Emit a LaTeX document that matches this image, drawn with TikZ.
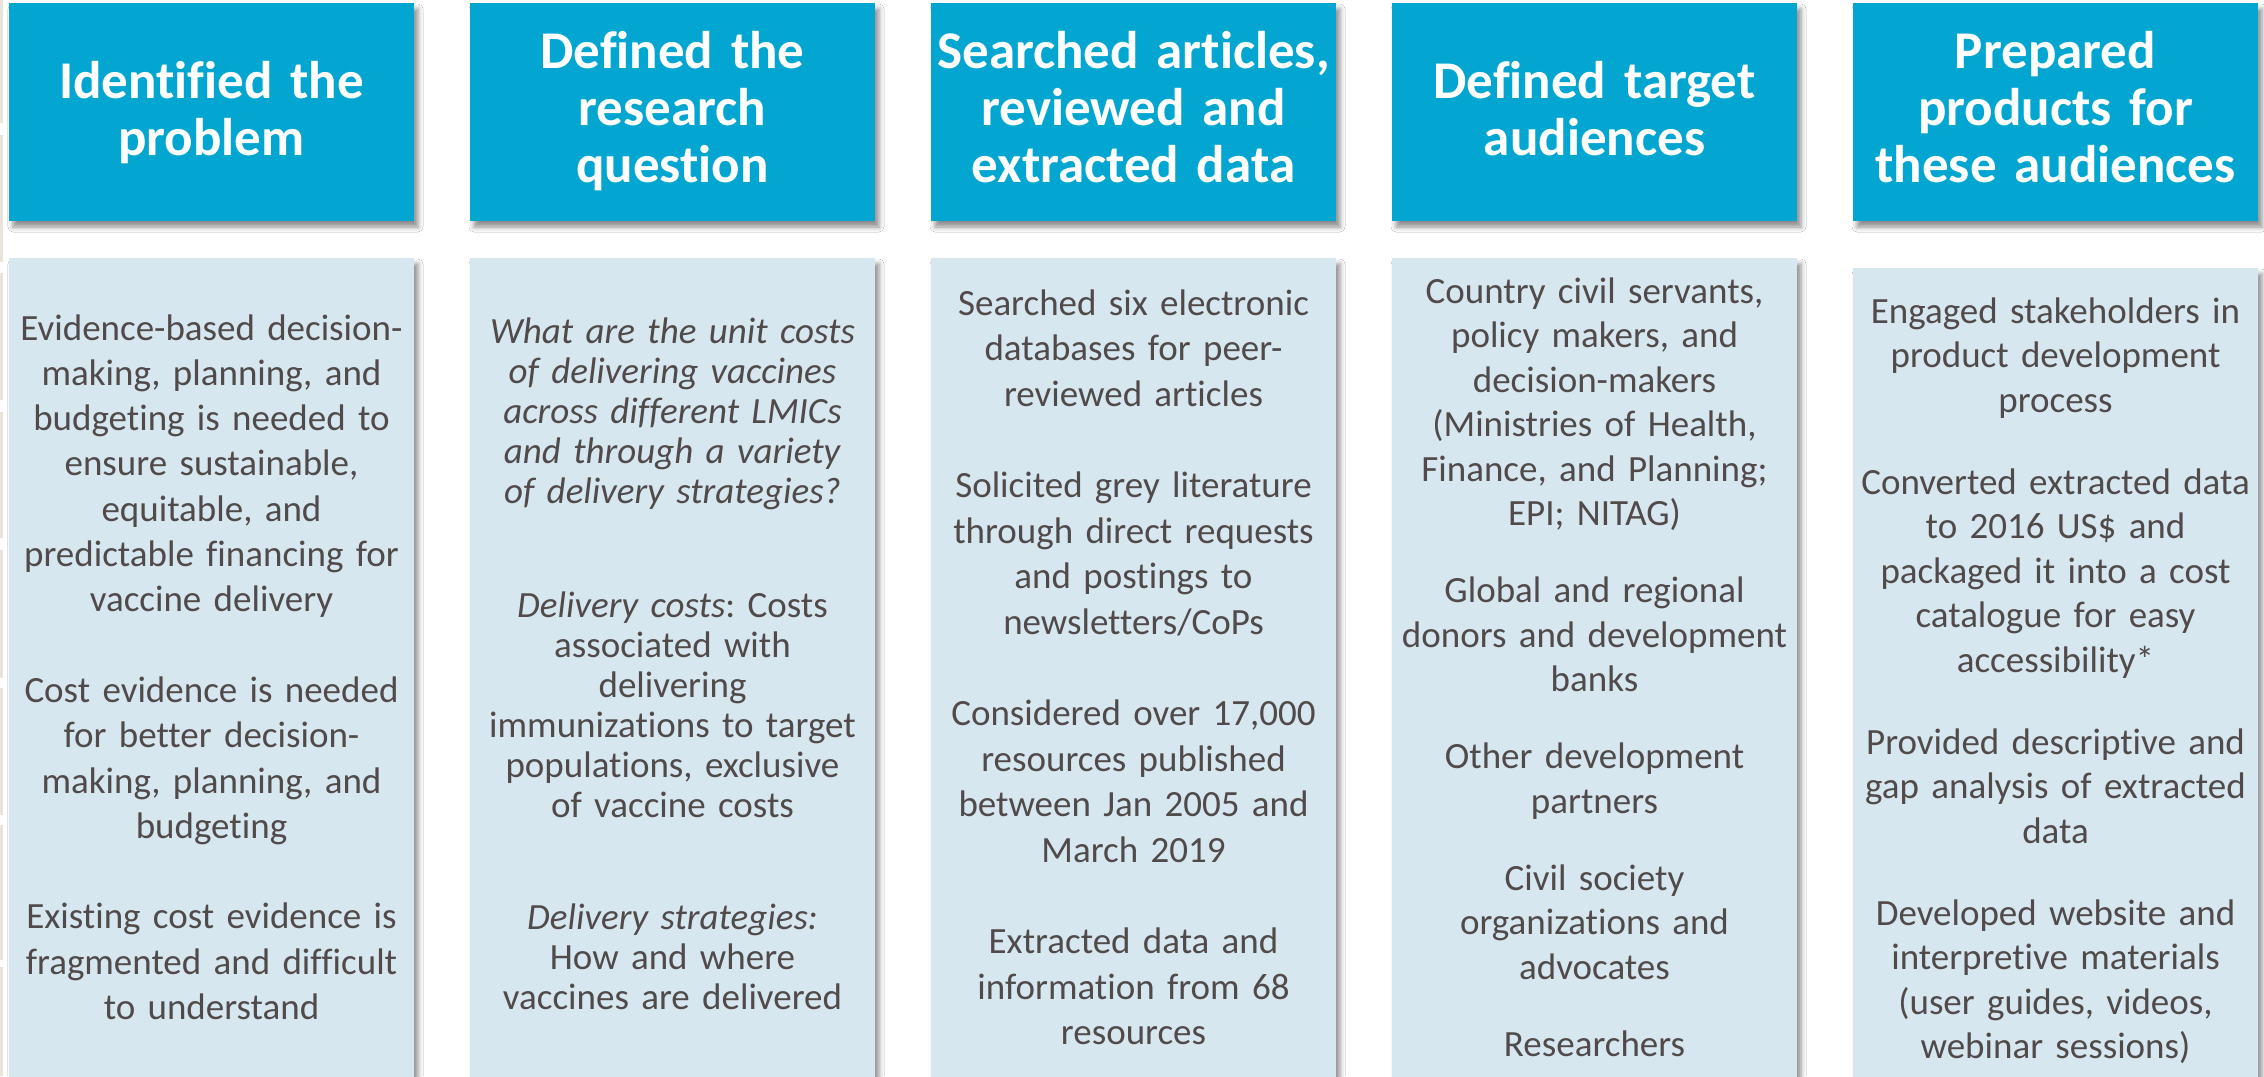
\documentclass[tikz,border=0pt]{standalone}
\usepackage{fontspec}
\setmainfont{Carlito}[Ligatures={TeX,NoCommon}]
\usetikzlibrary{shadows.blur}
\definecolor{headblue}{RGB}{3,166,209}
\definecolor{bodyblue}{RGB}{215,231,239}
\definecolor{ink}{RGB}{80,75,74}
\definecolor{edgebeige}{RGB}{233,228,216}
\frenchspacing

\begin{document}
\begin{tikzpicture}[x=0.5pt,y=-0.5pt,
  softshadow/.style={blur shadow={shadow xshift=2pt,shadow yshift=-3pt,shadow blur radius=2.5pt,shadow opacity=45}},
  headbox/.style={fill=headblue, minimum width=202.5pt, minimum height=109pt,
    inner sep=0pt, outer sep=0pt, softshadow},
  bodybox/.style={fill=bodyblue, minimum width=202.5pt, inner sep=0pt, outer sep=0pt, softshadow},
  headtext/.style={text=white, font=\bfseries\fontsize{26.5}{28.75}\selectfont,
    align=center, text width=215pt, anchor=base, inner sep=0pt},
  bodytext/.style={text=ink, align=center, text width=215pt, anchor=base, inner sep=0pt},
]
\useasboundingbox[fill=white] (0,0) rectangle (2264,1076);

% strip of the neighbouring page along the left edge
\foreach \a/\b in {0/123,135/262,273/400,412/538,550/678,688/815,825/960,967/1076}
  \fill[edgebeige] (0,\a) rectangle (3,\b);

% content panels
\node[bodybox, minimum height=416pt] (b1) at (211.5,674) {};
\node[bodybox, minimum height=416pt] (b2) at (672.5,674) {};
\node[bodybox, minimum height=416pt] (b3) at (1133.5,674) {};
\node[bodybox, minimum height=416pt] (b4) at (1594.5,674) {};
\node[bodybox, minimum height=411pt] (b5) at (2055.5,679) {};

% step headers
\node[headbox] (h1) at (211.5,112) {};
\node[headbox] (h2) at (672.5,112) {};
\node[headbox] (h3) at (1133.5,112) {};
\node[headbox] (h4) at (1594.5,112) {};
\node[headbox] (h5) at (2055.5,112) {};

\node[headtext] (t1) at (211.5,98) {Identified the\\problem};
\node[headtext] (t2) at (672.5,68) {Defined the\\research\\question};
\node[headtext] (t3) at (1133.5,68) {Searched articles,\\reviewed and\\extracted data};
\node[headtext] (t4) at (1594.5,98) {Defined target\\audiences};
\node[headtext] (t5) at (2055.5,68) {Prepared\\products for\\these audiences};

% panel texts
\node[bodytext, font=\fontsize{18.5}{22.65}\selectfont] (p1) at (211.5,340) {%
Evidence-based decision-\\
making, planning, and\\
budgeting is needed to\\
ensure sustainable,\\
equitable, and\\
predictable financing for\\
vaccine delivery\\[22.65pt]
Cost evidence is needed\\
for better decision-\\
making, planning, and\\
budgeting\\[22.65pt]
Existing cost evidence is\\
fragmented and difficult\\
to understand};

\node[bodytext, font=\fontsize{18.5}{20}\selectfont] (p2) at (672.5,343) {%
\textit{What are the unit costs}\\
\textit{of delivering vaccines}\\
\textit{across different LMICs}\\
\textit{and through a variety}\\
\textit{of delivery strategies?}\\[37pt]
\textit{Delivery costs}: Costs\\
associated with\\
delivering\\
immunizations to target\\
populations, exclusive\\
of vaccine costs\\[36pt]
\textit{Delivery strategies:}\\
How and where\\
vaccines are delivered};

\node[bodytext, font=\fontsize{18.5}{22.8}\selectfont] (p3) at (1133.5,315) {%
Searched six electronic\\
databases for peer-\\
reviewed articles\\[22.8pt]
Solicited grey literature\\
through direct requests\\
and postings to\\
newsletters/CoPs\\[22.8pt]
Considered over 17,000\\
resources published\\
between Jan 2005 and\\
March 2019\\[22.8pt]
Extracted data and\\
information from 68\\
resources};

\node[bodytext, font=\fontsize{18.5}{22.25}\selectfont] (p4) at (1594.5,303) {%
Country civil servants,\\
policy makers, and\\
decision-makers\\
(Ministries of Health,\\
Finance, and Planning;\\
EPI; NITAG)\\[16.25pt]
Global and regional\\
donors and development\\
banks\\[16.25pt]
Other development\\
partners\\[16.25pt]
Civil society\\
organizations and\\
advocates\\[16.25pt]
Researchers};

\node[bodytext, font=\fontsize{18.5}{22.25}\selectfont] (p5) at (2055.5,323) {%
Engaged stakeholders in\\
product development\\
process\\[18.75pt]
Converted extracted data\\
to 2016 US\$ and\\
packaged it into a cost\\
catalogue for easy\\
accessibility*\\[18.75pt]
Provided descriptive and\\
gap analysis of extracted\\
data\\[18.75pt]
Developed website and\\
interpretive materials\\
(user guides, videos,\\
webinar sessions)};
\end{tikzpicture}
\end{document}
